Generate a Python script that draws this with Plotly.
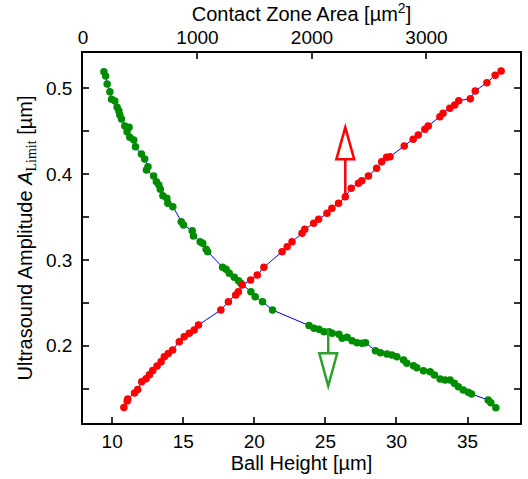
import plotly.graph_objects as go

# Contact zone area [µm²] vs. amplitude limit (red, top axis)
area_um2 = [357, 386, 391, 450, 478, 513, 551, 580, 609, 647, 682, 710, 745, 783,
            841, 884, 928, 971, 1009, 1204, 1270, 1334, 1357, 1391, 1464, 1522,
            1580, 1739, 1783, 1826, 1913, 1937, 2015, 2058, 2131, 2174, 2232,
            2291, 2343, 2406, 2435, 2493, 2565, 2609, 2652, 2682, 2806, 2884,
            2928, 2986, 3015, 3117, 3145, 3204, 3247, 3282, 3383, 3426, 3528,
            3600, 3652]
amp_vs_area = [0.128, 0.1355, 0.138, 0.145, 0.149, 0.158, 0.1615, 0.166, 0.171,
               0.1763, 0.1813, 0.187, 0.191, 0.195, 0.2047, 0.2105, 0.2145,
               0.2183, 0.2241, 0.2416, 0.2513, 0.2591, 0.2629, 0.2707, 0.2766,
               0.2824, 0.2914, 0.3096, 0.3154, 0.3212, 0.331, 0.3357, 0.3427,
               0.3473, 0.3543, 0.3601, 0.366, 0.3737, 0.3834, 0.3893, 0.3923,
               0.3978, 0.4068, 0.4145, 0.4196, 0.4203, 0.4328, 0.4406, 0.4456,
               0.4522, 0.4561, 0.4669, 0.4709, 0.4767, 0.4805, 0.4855, 0.4879,
               0.4969, 0.5065, 0.5152, 0.5202]

# Ball height [µm] vs. amplitude limit (green, bottom axis)
ball_height_um = [9.42, 9.54, 9.65, 9.84, 9.96, 10.19, 10.35, 10.47, 10.54, 10.66,
                  10.89, 11.19, 11.05, 11.24, 11.52, 11.64, 12.06, 12.29, 12.52,
                  12.41, 12.92, 13.11, 13.29, 13.39, 13.57, 13.85, 13.92, 14.27,
                  14.86, 15.02, 15.63, 15.72, 16.19, 16.37, 16.61, 16.72, 17.77,
                  18.01, 18.24, 18.59, 18.89, 19.06, 19.76, 20.06, 20.58, 21.28,
                  23.85, 24.20, 24.55, 24.90, 25.25, 25.48, 25.95, 26.18, 26.53,
                  26.88, 27.23, 27.58, 27.82, 28.52, 28.87, 29.33, 29.68, 30.03,
                  30.50, 30.73, 31.20, 31.43, 31.90, 32.37, 32.67, 33.07, 33.42,
                  33.77, 34.07, 34.35, 34.70, 35.05, 35.28, 36.45, 36.64, 36.99]
amp_vs_height = [0.5193, 0.5143, 0.505, 0.496, 0.4872, 0.4852, 0.4779, 0.4739,
                 0.4689, 0.4642, 0.4561, 0.4545, 0.4494, 0.4429, 0.4397, 0.4319,
                 0.4234, 0.4176, 0.4086, 0.4048, 0.3978, 0.3911, 0.3873, 0.3823,
                 0.3748, 0.3718, 0.366, 0.362, 0.3445, 0.3407, 0.334, 0.3279,
                 0.3212, 0.3193, 0.3124, 0.3096, 0.2914, 0.289, 0.2844, 0.2797,
                 0.2758, 0.2727, 0.2629, 0.2571, 0.2513, 0.2416, 0.2235, 0.2203,
                 0.2191, 0.2163, 0.2163, 0.2145, 0.2133, 0.2086, 0.2098, 0.2058,
                 0.2035, 0.2028, 0.2035, 0.1942, 0.1918, 0.1903, 0.1892, 0.1872,
                 0.1833, 0.1795, 0.1767, 0.1744, 0.1709, 0.1697, 0.1658, 0.1612,
                 0.16, 0.16, 0.1562, 0.1522, 0.1484, 0.1457, 0.1437, 0.1367,
                 0.1336, 0.1277]

height_ticks = [10, 15, 20, 25, 30, 35]
area_ticks = [0, 1000, 2000, 3000]
amp_ticks = [0.15, 0.2, 0.25, 0.3, 0.35, 0.4, 0.45, 0.5]
amp_labels = ["", "0.2", "", "0.3", "", "0.4", "", "0.5"]

RED = "#ff0000"
GREEN = "#008c00"
ARROW_GREEN = "#2ca02c"
BLUE = "#0000ff"
FONT = "Liberation Sans, Arial, sans-serif"
SERIF = "'Liberation Serif', 'Times New Roman', serif"

fig = go.Figure()

fig.add_trace(go.Scatter(
    x=ball_height_um, y=amp_vs_height, xaxis="x", yaxis="y",
    mode="lines+markers",
    line=dict(color=BLUE, width=1),
    marker=dict(color=GREEN, size=7.5, line=dict(width=0)),
    showlegend=False,
))

fig.add_trace(go.Scatter(
    x=area_um2, y=amp_vs_area, xaxis="x2", yaxis="y",
    mode="lines+markers",
    line=dict(color=BLUE, width=1),
    marker=dict(color=RED, size=7.5, line=dict(width=0)),
    showlegend=False,
))

# Arrows pointing to the axis each series belongs to
shapes = [
    # red: up, toward the contact-area axis
    dict(type="line", xref="x2", yref="y", x0=2291, x1=2291, y0=0.3737, y1=0.4172,
         line=dict(color=RED, width=2.5), layer="above"),
    dict(type="path", xref="x2", yref="y",
         path="M 2213 0.4172 L 2369 0.4172 L 2291 0.4545 Z",
         fillcolor="white", line=dict(color=RED, width=2.5), layer="above"),
    # green: down, toward the ball-height axis
    dict(type="line", xref="x", yref="y", x0=25.2, x1=25.2, y0=0.2203, y1=0.1911,
         line=dict(color=ARROW_GREEN, width=2.5), layer="above"),
    dict(type="path", xref="x", yref="y",
         path="M 24.57 0.1911 L 25.83 0.1911 L 25.2 0.153 Z",
         fillcolor="white", line=dict(color=ARROW_GREEN, width=2.5), layer="above"),
]

axis_common = dict(
    showline=True, linecolor="black", linewidth=1.5,
    ticks="inside", ticklen=6, tickwidth=1.5, tickcolor="#333333",
    showgrid=False, zeroline=False,
    tickfont=dict(family=FONT, size=19, color="black"),
)

fig.update_layout(
    width=528, height=479,
    margin=dict(l=83, r=6, t=53, b=56),
    plot_bgcolor="white", paper_bgcolor="white",
    font=dict(family=FONT, size=19, color="black"),
    shapes=shapes,
    xaxis=dict(
        **axis_common,
        range=[7.95, 38.69], tickvals=height_ticks,
        title=dict(text="Ball Height [µm]", font=dict(family=FONT, size=20), standoff=2),
    ),
    xaxis2=dict(
        **axis_common,
        overlaying="x", side="top", anchor="y",
        range=[0, 3817], tickvals=area_ticks,
        title=dict(text="Contact Zone Area [µm<sup>2</sup>]",
                   font=dict(family=FONT, size=20), standoff=2),
    ),
    yaxis=dict(
        **axis_common,
        mirror="ticks",
        ticklabelstandoff=5,
        range=[0.1099, 0.5411], tickvals=amp_ticks, ticktext=amp_labels,
        title=dict(
            text="Ultrasound Amplitude <i>A</i><sub><span style=\"font-family:" + SERIF + "\">Limit</span></sub> [µm]",
            font=dict(family=FONT, size=20), standoff=8),
    ),
)

fig.write_html("out.html")
